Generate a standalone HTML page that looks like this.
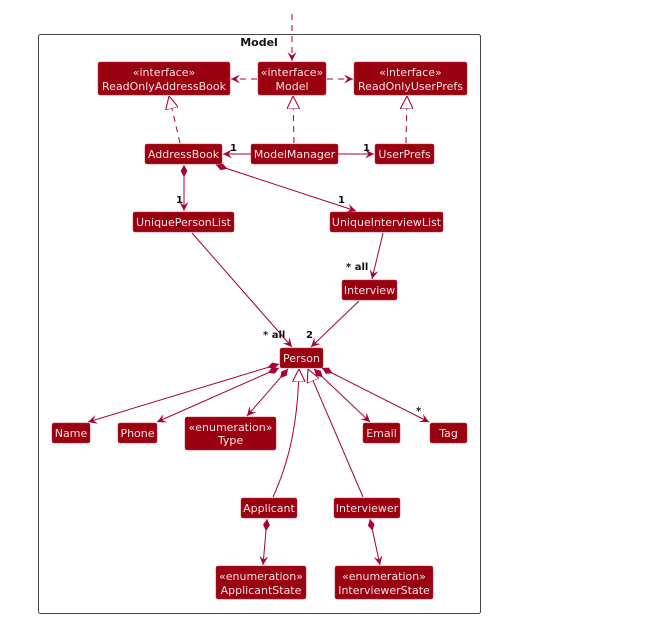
<!DOCTYPE html>
<html><head><meta charset="utf-8"><style>
html,body{margin:0;padding:0;background:#fff;}
svg{display:block;}
.b{fill:#9A0010;stroke:#B03040;stroke-width:0.5;}
.t{font-family:"DejaVu Sans","Liberation Sans",sans-serif;font-size:11px;fill:#F4E4E6;text-anchor:middle;}
.l{stroke:#A80036;stroke-width:1;fill:none;}
.d{stroke:#A80036;stroke-width:1;fill:none;stroke-dasharray:6,5;}
.m{font-family:"DejaVu Sans","Liberation Sans",sans-serif;font-size:10px;font-weight:bold;fill:#111;}
</style></head><body>
<svg width="672" height="620" viewBox="0 0 672 620" xmlns="http://www.w3.org/2000/svg">
<defs>
<marker id="a" viewBox="0 0 10 10" refX="10" refY="5" markerWidth="9" markerHeight="9" orient="auto-start-reverse" markerUnits="userSpaceOnUse"><path d="M0,0 L10,5 L0,10 L4,5 Z" fill="#A80036"/></marker>
<marker id="tri" viewBox="0 0 12 12" refX="12" refY="6" markerWidth="13" markerHeight="13" orient="auto" markerUnits="userSpaceOnUse"><path d="M0,0 L12,6 L0,12 Z" fill="#fff" stroke="#A80036" stroke-width="1"/></marker>
<marker id="dia" viewBox="0 0 14 8" refX="0" refY="4" markerWidth="12" markerHeight="7" orient="auto" markerUnits="userSpaceOnUse"><path d="M0,4 L7,0 L14,4 L7,8 Z" fill="#A80036"/></marker>
</defs>
<rect x="38.5" y="34.5" width="442" height="579" rx="2" fill="none" stroke="#444" stroke-width="1"/>
<text x="259" y="46" font-family="DejaVu Sans,Liberation Sans,sans-serif" font-size="11" font-weight="bold" text-anchor="middle" fill="#111">Model</text>

<!-- connectors -->
<line class="d" x1="292" y1="14" x2="292" y2="61" marker-end="url(#a)"/>
<line class="d" x1="257" y1="79" x2="231" y2="79" marker-end="url(#a)"/>
<line class="d" x1="327" y1="79" x2="353" y2="79" marker-end="url(#a)"/>
<line class="d" x1="180" y1="143" x2="169" y2="96" marker-end="url(#tri)"/>
<line class="d" x1="294" y1="143" x2="293" y2="96" marker-end="url(#tri)"/>
<line class="d" x1="406" y1="143" x2="407" y2="96" marker-end="url(#tri)"/>
<line class="l" x1="251" y1="154" x2="223" y2="154" marker-end="url(#a)"/>
<line class="l" x1="338" y1="154" x2="374" y2="154" marker-end="url(#a)"/>
<line class="l" x1="184" y1="165" x2="184" y2="211" marker-start="url(#dia)" marker-end="url(#a)"/>
<line class="l" x1="216" y1="165" x2="356" y2="211" marker-start="url(#dia)" marker-end="url(#a)"/>
<line class="l" x1="192" y1="233" x2="292" y2="347" marker-end="url(#a)"/>
<line class="l" x1="383" y1="233" x2="372" y2="279" marker-end="url(#a)"/>
<line class="l" x1="359" y1="301" x2="311" y2="347" marker-end="url(#a)"/>
<line class="l" x1="279" y1="364" x2="88" y2="422" marker-start="url(#dia)" marker-end="url(#a)"/>
<line class="l" x1="279" y1="368" x2="157" y2="422" marker-start="url(#dia)" marker-end="url(#a)"/>
<line class="l" x1="288" y1="369" x2="247" y2="416" marker-start="url(#dia)" marker-end="url(#a)"/>
<line class="l" x1="314" y1="369" x2="370" y2="422" marker-start="url(#dia)" marker-end="url(#a)"/>
<line class="l" x1="322" y1="368" x2="429" y2="422" marker-start="url(#dia)" marker-end="url(#a)"/>
<path class="l" d="M273,497 C290,460 298,420 299,369" marker-end="url(#tri)"/>
<line class="l" x1="363" y1="497" x2="308" y2="369" marker-end="url(#tri)"/>
<line class="l" x1="267" y1="519" x2="263" y2="565" marker-start="url(#dia)" marker-end="url(#a)"/>
<line class="l" x1="370" y1="519" x2="380" y2="565" marker-start="url(#dia)" marker-end="url(#a)"/>

<!-- multiplicities -->
<text class="m" x="230" y="151">1</text>
<text class="m" x="363" y="151">1</text>
<text class="m" x="176" y="203">1</text>
<text class="m" x="338" y="203">1</text>
<text class="m" x="346" y="270">* all</text>
<text class="m" x="263" y="338">* all</text>
<text class="m" x="306" y="338">2</text>
<text class="m" x="416" y="414">*</text>

<!-- boxes -->
<rect class="b" x="98" y="62" width="132" height="33" rx="2"/><text class="t" x="164" y="76">«interface»</text><text class="t" x="164" y="90">ReadOnlyAddressBook</text>
<rect class="b" x="258" y="62" width="68" height="33" rx="2"/><text class="t" x="292" y="76">«interface»</text><text class="t" x="292" y="90">Model</text>
<rect class="b" x="354" y="62" width="113" height="33" rx="2"/><text class="t" x="410.5" y="76">«interface»</text><text class="t" x="410.5" y="90">ReadOnlyUserPrefs</text>
<rect class="b" x="145" y="144" width="77" height="20" rx="2"/><text class="t" x="183.5" y="158">AddressBook</text>
<rect class="b" x="251" y="144" width="87" height="20" rx="2"/><text class="t" x="294.5" y="158">ModelManager</text>
<rect class="b" x="375" y="144" width="59" height="20" rx="2"/><text class="t" x="404.5" y="158">UserPrefs</text>
<rect class="b" x="133" y="212" width="101" height="20" rx="2"/><text class="t" x="183.5" y="226">UniquePersonList</text>
<rect class="b" x="330" y="212" width="113" height="20" rx="2"/><text class="t" x="386.5" y="226">UniqueInterviewList</text>
<rect class="b" x="342" y="280" width="55" height="20" rx="2"/><text class="t" x="369.5" y="294">Interview</text>
<rect class="b" x="280" y="348" width="43" height="20" rx="2"/><text class="t" x="301.5" y="362">Person</text>
<rect class="b" x="52" y="423" width="38" height="20" rx="2"/><text class="t" x="71" y="437">Name</text>
<rect class="b" x="118" y="423" width="39" height="20" rx="2"/><text class="t" x="137.5" y="437">Phone</text>
<rect class="b" x="185" y="417" width="91" height="33" rx="2"/><text class="t" x="230.5" y="431">«enumeration»</text><text class="t" x="230.5" y="444">Type</text>
<rect class="b" x="363" y="423" width="37" height="20" rx="2"/><text class="t" x="381.5" y="437">Email</text>
<rect class="b" x="430" y="423" width="37" height="20" rx="2"/><text class="t" x="448.5" y="437">Tag</text>
<rect class="b" x="241" y="498" width="56" height="20" rx="2"/><text class="t" x="269" y="512">Applicant</text>
<rect class="b" x="334" y="498" width="66" height="20" rx="2"/><text class="t" x="367" y="512">Interviewer</text>
<rect class="b" x="216" y="566" width="90" height="33" rx="2"/><text class="t" x="261" y="580">«enumeration»</text><text class="t" x="261" y="594">ApplicantState</text>
<rect class="b" x="335" y="566" width="98" height="33" rx="2"/><text class="t" x="384" y="580">«enumeration»</text><text class="t" x="384" y="594">InterviewerState</text>
</svg>
</body></html>
